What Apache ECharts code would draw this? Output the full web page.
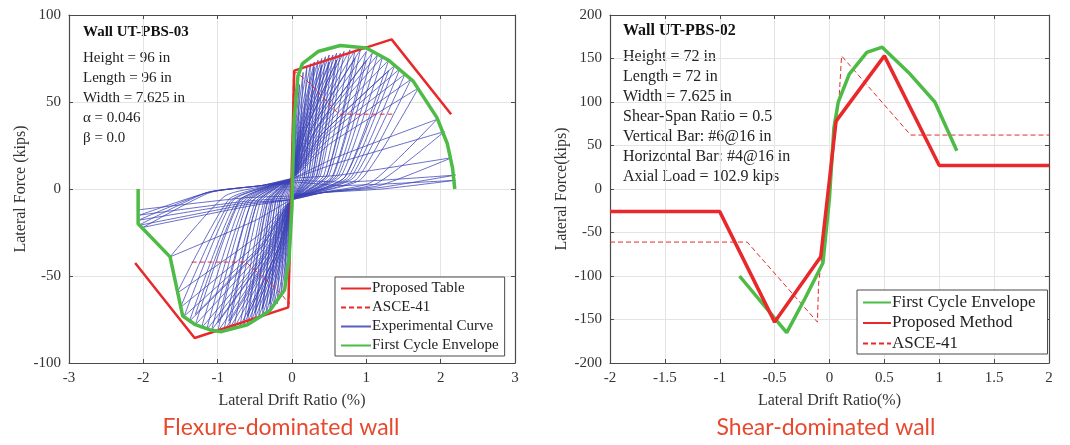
<!DOCTYPE html>
<html>
<head>
<meta charset="utf-8">
<script src="https://cdn.jsdelivr.net/npm/echarts@6/dist/echarts.min.js"></script>
<style>
  html, body { margin: 0; padding: 0; background: #fff; }
  #chart { width: 1070px; height: 445px; }
</style>
</head>
<body>
<div id="chart"></div>
<script>
// ---- flexure-dominated wall (UT-PBS-03) ----
const flexXTicks = [-3, 3, 1];
const flexYTicks = [-100, 100, 50];
const flexProposed = [[-2.11, -42.5], [-1.31, -85.6], [-0.05, -68], [0.03, 68], [0.05, 69], [1.34, 86], [2.14, 43]];
const flexAsce = [[-1.35, -42], [-0.62, -42], [-0.15, -60], [-0.04, -66], [0.02, 66], [0.06, 67], [0.23, 61], [0.63, 43], [1.35, 43]];
const flexEnvelope = [[-2.07, 0], [-2.07, -20], [-1.64, -39], [-1.47, -73], [-1.3, -78], [-1.1, -81], [-0.95, -82], [-0.6, -78],
  [-0.3, -70], [-0.1, -58], [-0.04, -40], [0, -10], [0.01, 10], [0.03, 40], [0.08, 65], [0.14, 72], [0.35, 79], [0.65, 82.5],
  [1.0, 81], [1.3, 74], [1.63, 62], [1.95, 41], [2.09, 26], [2.16, 12], [2.19, 0]];
// hysteresis loops, one cycle per row
const flexCycles = [
  [[0, 0], [0.015, 18], [0.05, 40], [0.028, 4], [0.01, -2], [0, -6], [-0.015, -17], [-0.05, -38], [-0.028, -4], [-0.01, 2], [0, 6]],
  [[0.03, 27], [0.1, 60], [0.055, 6], [0.02, -2], [0, -6], [-0.03, -25], [-0.1, -55], [-0.055, -6], [-0.02, 2], [0, 6]],
  [[0.045, 30], [0.15, 67], [0.08, 7], [0.03, -2], [0, -6], [-0.045, -28], [-0.15, -62], [-0.08, -6], [-0.03, 2], [0, 6]],
  [[0.06, 32], [0.2, 70], [0.11, 7], [0.04, -2], [0, -6], [-0.06, -30], [-0.2, -66], [-0.11, -7], [-0.04, 2], [0, 6]],
  [[0.075, 32], [0.25, 72], [0.14, 7], [0.05, -2], [0, -6], [-0.075, -31], [-0.25, -68], [-0.14, -7], [-0.05, 2], [0, 6]],
  [[0.09, 33], [0.3, 73], [0.165, 7], [0.06, -2], [0, -6], [-0.09, -32], [-0.3, -70], [-0.165, -7], [-0.06, 2], [0, 6]],
  [[0.09, 31], [0.3, 70], [0.165, 7], [0.06, -2], [0, -6], [-0.09, -30], [-0.3, -66], [-0.165, -7], [-0.06, 2], [0, 6]],
  [[0.105, 33], [0.35, 74], [0.19, 7], [0.07, -2], [0, -6], [-0.105, -32], [-0.35, -72], [-0.19, -7], [-0.07, 2], [0, 6]],
  [[0.12, 34], [0.4, 75], [0.22, 8], [0.08, -2], [0, -6], [-0.12, -33], [-0.4, -73], [-0.22, -7], [-0.08, 2], [0, 6]],
  [[0.12, 32], [0.4, 71], [0.22, 7], [0.08, -2], [0, -6], [-0.12, -31], [-0.4, -69], [-0.22, -7], [-0.08, 2], [0, 6]],
  [[0.135, 34], [0.45, 76], [0.25, 8], [0.09, -2], [0, -6], [-0.135, -33], [-0.45, -74], [-0.25, -7], [-0.09, 2], [0, 6]],
  [[0.15, 35], [0.5, 77], [0.275, 8], [0.1, -2], [0, -6], [-0.15, -34], [-0.5, -75], [-0.275, -8], [-0.1, 2], [0, 6]],
  [[0.15, 33], [0.5, 73], [0.275, 7], [0.1, -2], [0, -6], [-0.15, -32], [-0.5, -71], [-0.275, -7], [-0.1, 2], [0, 6]],
  [[0.165, 35], [0.55, 77], [0.3, 8], [0.11, -2], [0, -6], [-0.165, -34], [-0.55, -76], [-0.3, -8], [-0.11, 2], [0, 6]],
  [[0.18, 35], [0.6, 78], [0.33, 8], [0.12, -2], [0, -6], [-0.18, -35], [-0.6, -77], [-0.33, -8], [-0.12, 2], [0, 6]],
  [[0.18, 33], [0.6, 74], [0.33, 7], [0.12, -2], [0, -6], [-0.18, -33], [-0.6, -73], [-0.33, -7], [-0.12, 2], [0, 6]],
  [[0.195, 35], [0.65, 78], [0.36, 8], [0.13, -2], [0, -6], [-0.195, -35], [-0.65, -78], [-0.36, -8], [-0.13, 2], [0, 6]],
  [[0.21, 36], [0.7, 79], [0.385, 8], [0.14, -2], [0, -6], [-0.21, -36], [-0.7, -79], [-0.385, -8], [-0.14, 2], [0, 6]],
  [[0.235, 36], [0.78, 80], [0.43, 8], [0.16, -2], [0, -6], [-0.235, -36], [-0.78, -80], [-0.43, -8], [-0.16, 2], [0, 6]],
  [[0.255, 36], [0.85, 80], [0.47, 8], [0.17, -2], [0, -6], [-0.255, -36], [-0.85, -81], [-0.47, -8], [-0.17, 2], [0, 6]],
  [[0.255, 34], [0.85, 75], [0.47, 8], [0.17, -2], [0, -6], [-0.255, -34], [-0.85, -76], [-0.47, -8], [-0.17, 2], [0, 6]],
  [[0.275, 36], [0.92, 80], [0.5, 8], [0.18, -2], [0, -6], [-0.275, -37], [-0.92, -82], [-0.5, -8], [-0.18, 2], [0, 6]],
  [[0.3, 36], [1.0, 79], [0.55, 8], [0.2, -2], [0, -6], [-0.3, -37], [-1.0, -82], [-0.55, -8], [-0.2, 2], [0, 6]],
  [[0.3, 33], [1.0, 74], [0.55, 7], [0.2, -2], [0, -6], [-0.3, -35], [-1.0, -77], [-0.55, -8], [-0.2, 2], [0, 6]],
  [[0.325, 35], [1.08, 78], [0.6, 8], [0.22, -2], [0, -6], [-0.325, -36], [-1.08, -81], [-0.6, -8], [-0.22, 2], [0, 6]],
  [[0.345, 35], [1.15, 77], [0.63, 8], [0.23, -2], [0, -6], [-0.345, -36], [-1.15, -81], [-0.63, -8], [-0.23, 2], [0, 6]],
  [[0.365, 34], [1.22, 76], [0.67, 8], [0.24, -2], [0, -6], [-0.365, -36], [-1.22, -80], [-0.67, -8], [-0.24, 2], [0, 6]],
  [[0.39, 33], [1.3, 74], [0.715, 7], [0.26, -2], [0, -6], [-0.39, -35], [-1.3, -78], [-0.715, -8], [-0.26, 2], [0, 6]],
  [[0.39, 31], [1.3, 68], [0.715, 7], [0.26, -2], [0, -6], [-0.39, -32], [-1.3, -72], [-0.715, -7], [-0.26, 2], [0, 6]],
  [[0.415, 32], [1.38, 71], [0.76, 7], [0.28, -2], [0, -6], [-0.415, -34], [-1.38, -76], [-0.76, -8], [-0.28, 2], [0, 6]],
  [[0.435, 31], [1.45, 69], [0.8, 7], [0.29, -2], [0, -6], [-0.435, -33], [-1.45, -73], [-0.8, -7], [-0.29, 2], [0, 6]],
  [[0.455, 30], [1.52, 66], [0.84, 7], [0.3, -2], [0, -6], [-0.455, -31], [-1.5, -68], [-0.83, -7], [-0.3, 2], [0, 6]],
  [[0.48, 28], [1.6, 63], [0.88, 6], [0.32, -2], [0, -6], [-0.465, -27], [-1.55, -60], [-0.85, -6], [-0.31, 2], [0, 6]],
  [[0.51, 26], [1.7, 58], [0.94, 6], [0.34, -2], [0, -6], [-0.49, -18], [-1.64, -39], [-0.9, -4], [-0.33, 2], [0, 6]],
  [[0.585, 18], [1.95, 40], [1.07, 4], [0.39, -2], [0, -6], [-0.6, -10], [-2.0, -22], [-1.1, -2], [-0.4, 2], [0, 6]],
  [[0.615, 15], [2.05, 33], [1.13, 3], [0.41, -2], [0, -6], [-0.62, -9], [-2.07, -21], [-1.14, -2], [-0.41, 2], [0, 6]],
  [[0.645, 8], [2.15, 18], [1.18, 2], [0.43, -2], [0, -6], [-0.62, -8], [-2.07, -18], [-1.14, -2], [-0.41, 2], [0, 5]],
  [[0.66, 4], [2.2, 8], [1.21, 1], [0.44, -2], [0, -5], [-0.62, -7], [-2.05, -15], [-1.13, -2], [-0.41, 2], [0, 4]],
  [[0.66, 2], [2.2, 5], [1.21, 0], [0.44, -2], [0, -4], [-0.62, -5], [-2.07, -12]]
];
const flexExperimental = [].concat(...flexCycles);

// ---- shear-dominated wall (UT-PBS-02) ----
const shearXTicks = [-2, 2, 0.5];
const shearYTicks = [-200, 200, 50];
const shearEnvelope = [[-0.82, -100], [-0.39, -165], [-0.22, -125], [-0.06, -85], [0, -10], [0.04, 70], [0.08, 100],
  [0.18, 132], [0.34, 157], [0.48, 163], [0.72, 134], [0.96, 100], [1.16, 44]];
const shearProposed = [[-2, -26], [-1, -26], [-0.5, -153], [-0.08, -78], [0.06, 78], [0.5, 153], [1.0, 27], [2, 27]];
const shearAsce = [[-2, -61], [-0.75, -61], [-0.11, -153], [-0.1, -110], [0, 0], [0.09, 110], [0.11, 153], [0.74, 62], [2, 62]];

const flexNotes = ['Height = 96 in', 'Length = 96 in', 'Width = 7.625 in', 'α = 0.046', 'β = 0.0'];
const shearNotes = ['Height = 72 in', 'Length = 72 in', 'Width = 7.625 in', 'Shear-Span Ratio = 0.5',
  'Vertical Bar: #6@16 in', 'Horizontal Bar: #4@16 in', 'Axial Load = 102.9 kips'];

const SERIF = 'Liberation Serif';
const RED = '#e8282a';
const GREEN = '#4dbb45';
const BLUE = '#3a42b6';
const BOX = '#4a4a4a';

function valueAxis(ticks, extra) {
  return Object.assign({
    type: 'value',
    min: ticks[0],
    max: ticks[1],
    interval: ticks[2],
    axisLine: { show: true, onZero: false, lineStyle: { color: BOX, width: 1.2 } },
    axisTick: { show: true, inside: true, length: 4, lineStyle: { color: BOX } },
    axisLabel: { color: '#333', fontFamily: SERIF, fontSize: 15, margin: 8 },
    splitLine: { show: true, lineStyle: { color: '#e4e4e4', width: 1 } },
    nameTextStyle: { color: '#333', fontFamily: SERIF, fontSize: 16 }
  }, extra);
}
function mirrorAxis(ticks, gridIndex, position) {
  return {
    type: 'value', gridIndex, position,
    min: ticks[0], max: ticks[1], interval: ticks[2],
    axisLine: { show: true, onZero: false, lineStyle: { color: BOX, width: 1.2 } },
    axisTick: { show: true, inside: true, length: 4, lineStyle: { color: BOX } },
    axisLabel: { show: false },
    splitLine: { show: false }
  };
}

function notes(x, y, size, title, lines) {
  const out = [{
    type: 'text', x, y,
    style: { text: title, font: 'bold ' + size + 'px "Liberation Serif"', fill: '#111', textVerticalAlign: 'middle' }
  }];
  lines.forEach((t, i) => out.push({
    type: 'text', x, y: y + 26 + i * 20,
    style: { text: t, font: size + 'px "Liberation Serif"', fill: '#222', textVerticalAlign: 'middle' }
  }));
  return out;
}

const legendBase = {
  orient: 'vertical',
  backgroundColor: '#fff',
  borderColor: BOX,
  borderWidth: 1,
  borderRadius: 0,
  itemWidth: 30,
  itemHeight: 14,
  selectedMode: false,
  itemStyle: { opacity: 0 },
  textStyle: { fontFamily: SERIF, color: '#222', padding: [0, 0, 0, -4] }
};

const chart = echarts.init(document.getElementById('chart'));
chart.setOption({
  backgroundColor: '#fff',
  animation: false,
  grid: [
    { left: 69, top: 15, width: 446, height: 348, show: false },
    { left: 610, top: 15, width: 439, height: 348, show: false }
  ],
  xAxis: [
    valueAxis(flexXTicks, { gridIndex: 0, name: 'Lateral Drift Ratio (%)', nameLocation: 'middle', nameGap: 30 }),
    valueAxis(shearXTicks, { gridIndex: 1, name: 'Lateral Drift Ratio(%)', nameLocation: 'middle', nameGap: 30 }),
    mirrorAxis(flexXTicks, 0, 'top'),
    mirrorAxis(shearXTicks, 1, 'top')
  ],
  yAxis: [
    valueAxis(flexYTicks, { gridIndex: 0, name: 'Lateral Force (kips)', nameLocation: 'middle', nameGap: 40 }),
    valueAxis(shearYTicks, { gridIndex: 1, name: 'Lateral Force(kips)', nameLocation: 'middle', nameGap: 40 }),
    mirrorAxis(flexYTicks, 0, 'right'),
    mirrorAxis(shearYTicks, 1, 'right')
  ],
  legend: [
    Object.assign({}, legendBase, {
      left: 335, top: 277, itemGap: 4, padding: [4, 6, 3, 5],
      textStyle: Object.assign({}, legendBase.textStyle, { fontSize: 15 }),
      data: ['Proposed Table', 'ASCE-41', 'Experimental Curve', 'First Cycle Envelope']
    }),
    Object.assign({}, legendBase, {
      left: 857, top: 290, itemGap: 3.5, itemWidth: 28, padding: [4, 12, 2, 5],
      textStyle: Object.assign({}, legendBase.textStyle, { fontSize: 17 }),
      data: ['First Cycle Envelope', 'Proposed Method', 'ASCE-41']
    })
  ],
  graphic: [
    ...notes(83, 32, 15, 'Wall UT-PBS-03', flexNotes),
    ...notes(623, 31, 16, 'Wall UT-PBS-02', shearNotes),
    { type: 'text', x: 281, y: 428,
      style: { text: 'Flexure-dominated wall', font: '23px Lato', fill: '#e8492e', textAlign: 'center', textVerticalAlign: 'middle' } },
    { type: 'text', x: 826, y: 428,
      style: { text: 'Shear-dominated wall', font: '23px Lato', fill: '#e8492e', textAlign: 'center', textVerticalAlign: 'middle' } }
  ],
  series: [
    { name: 'Experimental Curve', type: 'line', xAxisIndex: 0, yAxisIndex: 0, data: flexExperimental,
      symbol: 'none', smooth: 0.2, lineStyle: { color: BLUE, width: 0.9, opacity: 0.85 }, itemStyle: { color: BLUE } },
    { name: 'ASCE-41', type: 'line', xAxisIndex: 0, yAxisIndex: 0, data: flexAsce,
      symbol: 'none', lineStyle: { color: RED, width: 1, type: [5, 3] }, itemStyle: { color: RED } },
    { name: 'Proposed Table', type: 'line', xAxisIndex: 0, yAxisIndex: 0, data: flexProposed,
      symbol: 'none', lineStyle: { color: RED, width: 2.5 }, itemStyle: { color: RED } },
    { name: 'First Cycle Envelope', type: 'line', xAxisIndex: 0, yAxisIndex: 0, data: flexEnvelope,
      symbol: 'none', lineStyle: { color: GREEN, width: 3.5 }, itemStyle: { color: GREEN } },

    { name: 'ASCE-41', type: 'line', xAxisIndex: 1, yAxisIndex: 1, data: shearAsce,
      symbol: 'none', lineStyle: { color: RED, width: 1, type: [5, 3] }, itemStyle: { color: RED } },
    { name: 'First Cycle Envelope', type: 'line', xAxisIndex: 1, yAxisIndex: 1, data: shearEnvelope,
      symbol: 'none', lineStyle: { color: GREEN, width: 3.5 }, itemStyle: { color: GREEN } },
    { name: 'Proposed Method', type: 'line', xAxisIndex: 1, yAxisIndex: 1, data: shearProposed,
      symbol: 'none', lineStyle: { color: RED, width: 3.5 }, itemStyle: { color: RED } }
  ]
});
</script>
</body>
</html>
